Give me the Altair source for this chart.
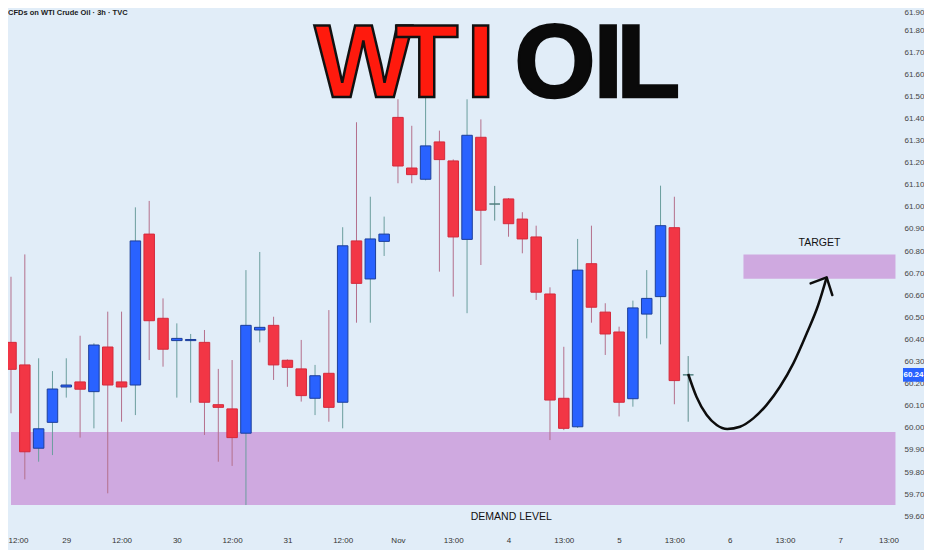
import altair as alt
import pandas as pd

# ---- candle data (3h bars), index 0 = Oct 28 12:00 ----
bar_index = list(range(0, 50))
opens = [60.387, 60.285, 59.908, 60.025, 60.185, 60.208, 60.164, 60.366, 60.208, 60.194,
         60.877, 60.496, 60.395, 60.395, 60.387, 60.105, 60.086, 59.976, 60.443, 60.464,
         60.306, 60.267, 60.134, 60.247, 60.116, 60.846, 60.674, 60.844, 61.405, 61.176,
         61.125, 61.294, 61.208, 60.853, 61.315, 61.013, 61.036, 60.945, 60.864, 60.606,
         60.134, 60.005, 60.743, 60.524, 60.434, 60.132, 60.515, 60.594, 60.906, 60.240]
highs = [60.684, 60.785, 60.315, 60.257, 60.315, 60.417, 60.383, 60.526, 60.526, 60.998,
         61.027, 60.586, 60.473, 60.425, 60.443, 60.267, 60.307, 60.714, 60.796, 60.503,
         60.310, 60.398, 60.285, 60.533, 60.908, 61.383, 61.046, 60.956, 61.487, 61.367,
         61.506, 61.345, 61.215, 61.487, 61.396, 61.095, 61.040, 60.976, 60.915, 60.636,
         60.367, 60.855, 60.915, 60.564, 60.458, 60.576, 60.714, 61.096, 61.046, 60.325]
lows = [60.066, 59.767, 59.847, 59.877, 60.137, 59.956, 59.998, 59.704, 60.028, 60.058,
        60.307, 60.277, 60.137, 60.114, 59.968, 59.847, 59.828, 59.651, 60.387, 60.217,
        60.186, 60.119, 60.058, 60.028, 59.998, 60.476, 60.476, 60.778, 61.107, 61.107,
        61.120, 60.707, 60.594, 60.519, 60.737, 60.938, 60.865, 60.790, 60.579, 59.945,
        59.990, 60.000, 60.476, 60.330, 60.052, 60.096, 60.405, 60.378, 60.107, 60.028]
closes = [60.265, 59.892, 59.996, 60.176, 60.194, 60.175, 60.375, 60.194, 60.185, 60.846,
          60.485, 60.356, 60.405, 60.400, 60.116, 60.093, 59.956, 60.464, 60.455, 60.285,
          60.274, 60.146, 60.236, 60.093, 60.824, 60.654, 60.855, 60.877, 61.185, 61.146,
          61.276, 61.214, 60.864, 61.324, 60.985, 61.013, 60.924, 60.855, 60.614, 60.126,
          59.998, 60.714, 60.546, 60.425, 60.116, 60.543, 60.586, 60.915, 60.214, 60.240]

tick_index = list(range(0, 65, 4))
tick_labels = ["12:00", "29", "12:00", "30", "12:00", "31", "12:00", "Nov", "13:00",
               "4", "13:00", "5", "13:00", "6", "13:00", "7", "13:00"]
price_ticks = [59.6, 59.7, 59.8, 59.9, 60.0, 60.1, 60.2, 60.3, 60.4, 60.5, 60.6, 60.7,
               60.8, 60.9, 61.0, 61.1, 61.2, 61.3, 61.4, 61.5, 61.6, 61.7, 61.8, 61.9]

# zones
zone_names = ["demand", "target"]
zone_x0 = [0, 53]
zone_x1 = [64, 64]
zone_lo = [59.651, 60.675]
zone_hi = [59.981, 60.785]

# projected path arrow
arrow_x = [49.0, 49.6, 50.34, 51.06, 51.83, 52.75, 53.71, 54.68, 55.64, 56.61, 57.58, 58.41, 59.02]
arrow_y = [60.244, 60.141, 60.058, 60.013, 59.995, 60.005, 60.043, 60.104, 60.186, 60.292,
           60.428, 60.556, 60.681]
head_x = [57.86, 59.02, 59.43]
head_y = [60.654, 60.681, 60.601]

# headline letters ("WTI" red, "OIL" black)
title_letters = ["W", "T", "I", "O", "I", "L"]
title_letter_x = [25.49, 30.08, 33.99, 39.36, 43.22, 46.11]
title_letter_group = ["red", "red", "red", "black", "black", "black"]
title_baseline = 61.499

last_price = 60.24

# ---- build tables ----
df = pd.DataFrame({"i": bar_index, "o": opens, "h": highs, "l": lows, "c": closes})
df["top"] = df[["o", "c"]].max(axis=1)
df["bot"] = df[["o", "c"]].min(axis=1)
df["dir"] = ["up" if c > o else ("down" if c < o else "flat") for o, c in zip(df.o, df.c)]
df["x0"] = df.i - 0.38
df["x1"] = df.i + 0.38

zones = pd.DataFrame({"name": zone_names, "x0": zone_x0, "x1": zone_x1, "lo": zone_lo, "hi": zone_hi})
arrow = pd.DataFrame({"x": arrow_x, "y": arrow_y, "k": list(range(len(arrow_x)))})
head = pd.DataFrame({"x": head_x, "y": head_y, "k": list(range(len(head_x)))})
letters = pd.DataFrame({"t": title_letters, "x": title_letter_x, "g": title_letter_group,
                        "y": [title_baseline] * len(title_letters)})

label_arr = "[" + ",".join("'" + t + "'" for t in tick_labels) + "]"

XS = alt.Scale(domain=[-0.217, 64.11], nice=False, zero=False)
YS = alt.Scale(domain=[59.538, 61.90], nice=False, zero=False)
FONT = "Liberation Sans"

x_axis = alt.Axis(values=tick_index, labelExpr=label_arr + "[round(datum.value/4)]",
                  labelFontSize=8, labelColor="#333333", labelFont=FONT, labelPadding=6,
                  ticks=False, domain=False, grid=False, title=None, labelOverlap=False,
                  labelFlush=4, labelFlushOffset=3)
y_axis = alt.Axis(orient="right", values=price_ticks, format=".2f", labelFontSize=8,
                  labelColor="#444444", labelFont=FONT, labelPadding=7, ticks=False,
                  domain=False, grid=False, title=None, labelOverlap=False, labelFlush=1)


def X(f):
    return alt.X(f, type="quantitative", scale=XS, axis=x_axis)


def Y(f):
    return alt.Y(f, type="quantitative", scale=YS, axis=y_axis)


zone_color = "#cfa9e0"
zone_layer = alt.Chart(zones).mark_rect(color=zone_color, opacity=1).encode(
    x=X("x0"), x2="x1", y=Y("lo"), y2="hi")

wicks = alt.Chart(df).mark_rule(strokeWidth=1).encode(
    x=X("i"), y=Y("l"), y2="h",
    color=alt.Color("dir:N", scale=alt.Scale(domain=["up", "down", "flat"],
                                             range=["#6b9e9e", "#b4708c", "#5f8f8f"]), legend=None))

bodies = alt.Chart(df).mark_rect(strokeWidth=1).encode(
    x=X("x0"), x2="x1", y=Y("bot"), y2="top",
    fill=alt.Fill("dir:N", scale=alt.Scale(domain=["up", "down", "flat"],
                                            range=["#2962ff", "#f23645", "#5f8f8f"]), legend=None),
    stroke=alt.Stroke("dir:N", scale=alt.Scale(domain=["up", "down", "flat"],
                                                range=["#1d3f9a", "#d42a3c", "#4f7f7f"]), legend=None))

arrow_line = alt.Chart(arrow).mark_line(color="#0d0d0d", strokeWidth=2.5, interpolate="monotone").encode(
    x=X("x"), y=Y("y"), order="k:Q")
head_line = alt.Chart(head).mark_line(color="#0d0d0d", strokeWidth=2.5, strokeCap="round",
                                      strokeJoin="round").encode(x=X("x"), y=Y("y"), order="k:Q")

texts = pd.DataFrame({"t": ["TARGET", "DEMAND LEVEL"], "x": [58.5, 36.2], "y": [60.835, 59.597]})
text_layer = alt.Chart(texts).mark_text(font=FONT, fontSize=10.5, color="#111111",
                                        baseline="middle", align="center").encode(
    x=X("x"), y=Y("y"), text="t:N")

wti_layer = alt.Chart(letters[letters.g == "red"]).mark_text(
    font=FONT, fontSize=104, fontWeight="bold", baseline="alphabetic", align="center",
    fill="#ff1a0d", stroke="#111111", strokeWidth=2.5).encode(
    x=X("x"), y=Y("y"), text="t:N")
oil_layer = alt.Chart(letters[letters.g == "black"]).mark_text(
    font=FONT, fontSize=104, fontWeight="bold", baseline="alphabetic", align="center",
    fill="#0a0a0a", stroke="#0a0a0a", strokeWidth=2.5).encode(
    x=X("x"), y=Y("y"), text="t:N")

sub_df = pd.DataFrame({"t": ["CFDs on WTI Crude Oil · 3h · TVC"]})
sub_layer = alt.Chart(sub_df).mark_text(font=FONT, fontSize=7.5, fontWeight="bold", color="#1a1a1a",
                                        align="left", baseline="alphabetic").encode(
    x=alt.value(0), y=alt.value(7), text="t:N")

tag_df = pd.DataFrame({"p": [last_price], "hi": [last_price + 0.031], "lo": [last_price - 0.031],
                       "t": [f"{last_price:.2f}"]})
tag_rect = alt.Chart(tag_df).mark_rect(color="#2962ff").encode(
    x=alt.value(895), x2=alt.value(916), y=Y("hi"), y2="lo")
tag_text = alt.Chart(tag_df).mark_text(font=FONT, fontSize=8, color="white", fontWeight="bold",
                                       align="center", baseline="middle").encode(
    x=alt.value(905.5), y=Y("p"), text="t:N")

chart = alt.layer(zone_layer, wicks, bodies, arrow_line, head_line, text_layer, wti_layer,
                  oil_layer, sub_layer, tag_rect, tag_text).properties(
    width=889, height=522,
    autosize=alt.AutoSizeParams(type="none"),
    padding={"left": 0, "top": 0, "right": 27, "bottom": 20},
    background="#e1edf8",
).configure_view(stroke=None)

chart.save("out.html", embed_options={"renderer": "svg", "actions": False})
